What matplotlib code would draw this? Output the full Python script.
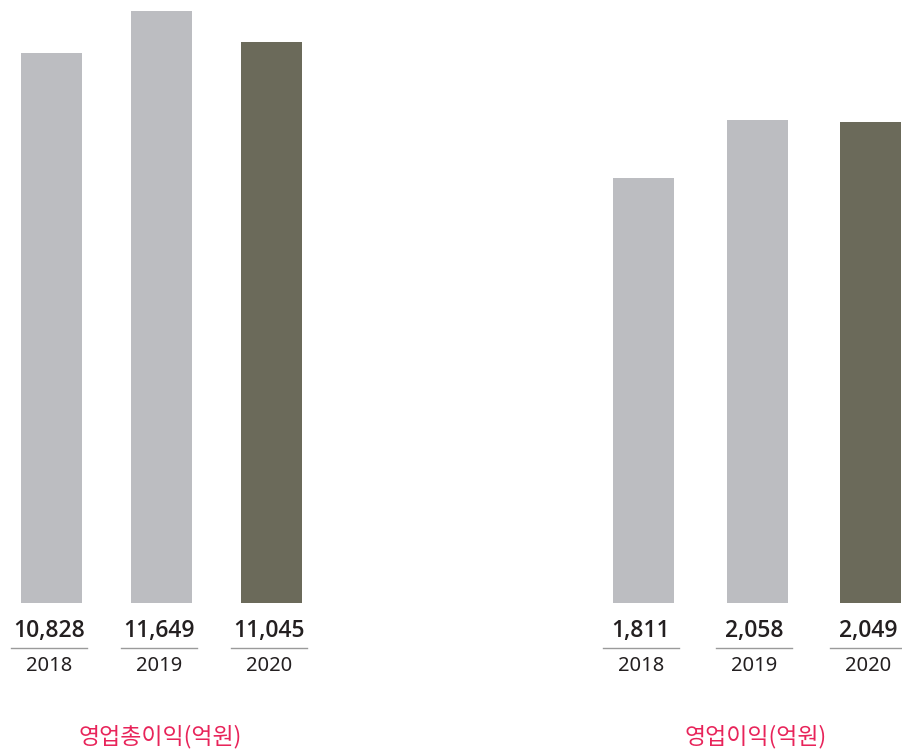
import matplotlib
matplotlib.use('Agg')
import matplotlib.pyplot as plt
import matplotlib.transforms as mtransforms

plt.rcParams['font.family'] = ['Noto Sans', 'Noto Sans CJK KR', 'DejaVu Sans']

# data
years = ['2018', '2019', '2020']
gross_profit = [10828, 11649, 11045]
operating_profit = [1811, 2058, 2049]
titles = ['영업총이익(억원)', '영업이익(억원)']

GREY = '#bcbdc1'
DARK = '#6b6a5a'
PINK = '#e8245a'
W, H = 903, 751

fig = plt.figure(figsize=(W / 100, H / 100), dpi=100)


def fy(px):
    # pixel from top -> figure fraction
    return 1 - px / H


def panel(x0, x1, first_center, spacing, values, ytop, title, title_x):
    ax = fig.add_axes([x0 / W, fy(603), (x1 - x0) / W, 592 / H])
    xs = list(range(len(values)))
    colors = [GREY] * (len(values) - 1) + [DARK]
    ax.bar(xs, values, width=61 / spacing, color=colors)
    ax.set_xlim(-(first_center - x0) / spacing, (x1 - first_center) / spacing)
    ax.set_ylim(0, ytop)
    ax.axis('off')

    tr = mtransforms.blended_transform_factory(ax.transData, fig.transFigure)
    half = 38 / spacing
    shift = 3 / spacing
    for x, v, yr in zip(xs, values, years):
        cx = x - shift
        ax.text(cx, fy(631), f'{v:,}', transform=tr, ha='center', va='center',
                fontsize=16.5, fontweight=600, color='#231f20',
                family=['Open Sans', 'DejaVu Sans'])
        ax.plot([cx - half, cx + half], [fy(648), fy(648)], transform=tr,
                color='#9a9a9a', lw=1, clip_on=False)
        ax.text(cx, fy(666), yr, transform=tr, ha='center', va='center',
                fontsize=14.5, color='#231f20')
    fig.text(title_x / W, fy(737), title, ha='center', va='center',
             fontsize=16.5, color=PINK, family=['Noto Sans CJK KR', 'DejaVu Sans'])
    return ax


panel(0, 330, 52, 110, gross_profit, 11649, titles[0], 160)
panel(560, 903, 644, 113.5, operating_profit, 2522, titles[1], 756)

fig.savefig('out.png', dpi=100)
plt.close(fig)
